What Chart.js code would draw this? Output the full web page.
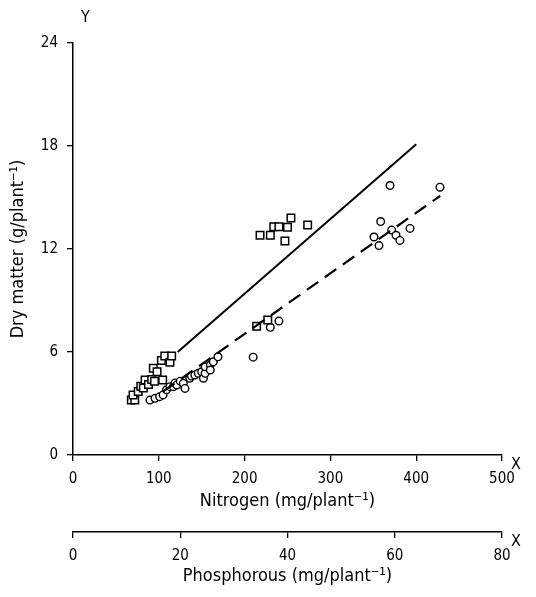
<!DOCTYPE html>
<html>
<head>
<meta charset="utf-8">
<script src="https://cdn.jsdelivr.net/npm/chart.js@4"></script>
<style>
  body { margin: 0; background: #fff; }
  #wrap { width: 536px; height: 597px; }
</style>
</head>
<body>
<div id="wrap"><canvas id="Chart"></canvas></div>
<script>
// values
const nitrogenTicks = [0, 100, 200, 300, 400, 500];
const phosphorusTicks = [0, 20, 40, 60, 80];
const dryMatterTicks = [0, 6, 12, 18, 24];

const squaresN = [68, 72, 70, 76, 79, 82, 84, 88, 91.7, 93.6, 95, 98, 104.5, 103, 107, 113, 115, 214, 227, 218, 230, 234, 240, 250, 254, 247, 273.5];
const squaresY = [3.2, 3.2, 3.5, 3.7, 4.0, 3.9, 4.37, 4.1, 4.4, 5.05, 4.3, 4.85, 4.37, 5.5, 5.77, 5.4, 5.77, 7.5, 7.86, 12.8, 12.8, 13.3, 13.3, 13.26, 13.8, 12.46, 13.4];

const circlesN = [89.7, 95.6, 101, 105, 109, 113, 117, 119, 121, 125, 128.6, 130.5, 136, 138, 142, 146, 150, 152, 154, 154, 160, 160, 163.5, 169, 210, 230, 240, 350.8, 356.6, 358.6, 369.5, 371.4, 376.5, 381, 392.8, 427.7];
const circlesY = [3.2, 3.3, 3.4, 3.5, 3.8, 3.98, 3.98, 4.2, 4.08, 4.3, 4.17, 3.88, 4.47, 4.6, 4.66, 4.76, 4.85, 4.47, 4.76, 5.14, 5.24, 4.95, 5.43, 5.72, 5.7, 7.44, 7.8, 12.7, 12.2, 13.6, 15.7, 13.1, 12.8, 12.5, 13.2, 15.6];

const filledN = [98];
const filledY = [4.85];

// fitted lines, end points
const solidN = [122, 400];
const solidY = [6.0, 18.1];
const dashedN = [105, 428];
const dashedY = [3.7, 15.1];

const fontFam = "'DejaVu Sans Condensed', 'Liberation Sans Narrow', sans-serif";

const toPoints = (xs, ys) => xs.map((x, i) => ({ x: x, y: ys[i] }));

const axisLabels = {
  id: 'axisLabels',
  afterDraw(chart) {
    const { ctx, chartArea, scales } = chart;
    ctx.save();
    ctx.fillStyle = '#000';
    ctx.font = '16px ' + fontFam;
    ctx.textAlign = 'left';
    ctx.textBaseline = 'middle';
    ctx.fillText('Y', chartArea.left + 8, chartArea.top - 25);
    ctx.fillText('X', chartArea.right + 9, chartArea.bottom + 10);
    ctx.fillText('X', chartArea.right + 9, scales.x2.top + 10);
    ctx.restore();
  }
};

const tickFont = { family: fontFam, size: 15 };
const titleFont = { family: fontFam, size: 18 };

new Chart(document.getElementById('Chart'), {
  type: 'scatter',
  data: {
    datasets: [
      {
        label: 'solid',
        type: 'line',
        data: toPoints(solidN, solidY),
        borderColor: '#000',
        borderWidth: 2,
        pointRadius: 0,
        fill: false
      },
      {
        label: 'dashed',
        type: 'line',
        data: toPoints(dashedN, dashedY),
        borderColor: '#000',
        borderWidth: 2.2,
        borderDash: [14, 8],
        pointRadius: 0,
        fill: false
      },
      {
        label: 'squares',
        data: toPoints(squaresN, squaresY),
        pointStyle: 'rect',
        pointRadius: 5.3,
        borderColor: '#000',
        borderWidth: 1.5,
        backgroundColor: '#fff'
      },
      {
        label: 'circles',
        data: toPoints(circlesN, circlesY),
        pointStyle: 'circle',
        pointRadius: 3.8,
        borderColor: '#000',
        borderWidth: 1.4,
        backgroundColor: '#fff'
      },
      {
        label: 'filled',
        data: toPoints(filledN, filledY),
        pointStyle: 'circle',
        pointRadius: 3,
        borderColor: '#000',
        backgroundColor: '#000'
      }
    ]
  },
  options: {
    responsive: true,
    maintainAspectRatio: false,
    animation: false,
    layout: { padding: { left: 0, top: 43, right: 34, bottom: 0 } },
    plugins: { legend: { display: false }, tooltip: { enabled: false } },
    scales: {
      x: {
        type: 'linear',
        position: 'bottom',
        weight: 0,
        min: 0,
        max: 500,
        afterBuildTicks: (s) => { s.ticks = nitrogenTicks.map(v => ({ value: v })); },
        afterFit: (s) => { s.height = 77; },
        grid: { drawOnChartArea: false, tickLength: 6, color: '#000', lineWidth: 1.3 },
        border: { color: '#000', width: 1.5 },
        ticks: { color: '#000', font: tickFont, padding: 9, maxRotation: 0 },
        title: { display: true, text: 'Nitrogen (mg/plant⁻¹)', color: '#000', font: titleFont, padding: { top: 2, bottom: 20 } }
      },
      x2: {
        type: 'linear',
        position: 'bottom',
        display: true,
        weight: 1,
        min: 0,
        max: 80,
        afterBuildTicks: (s) => { s.ticks = phosphorusTicks.map(v => ({ value: v })); },
        afterFit: (s) => { s.height = 65; },
        grid: { drawOnChartArea: false, tickLength: 6, color: '#000', lineWidth: 1.3 },
        border: { color: '#000', width: 1.5 },
        ticks: { color: '#000', font: tickFont, padding: 9, maxRotation: 0 },
        title: { display: true, text: 'Phosphorous (mg/plant⁻¹)', color: '#000', font: titleFont, padding: { top: 2, bottom: 10 } }
      },
      y: {
        type: 'linear',
        min: 0,
        max: 24,
        afterBuildTicks: (s) => { s.ticks = dryMatterTicks.map(v => ({ value: v })); },
        afterFit: (s) => { s.width = 73; },
        grid: { drawOnChartArea: false, tickLength: 6, color: '#000', lineWidth: 1.3 },
        border: { color: '#000', width: 1.5 },
        ticks: { color: '#000', font: tickFont, padding: 9 },
        title: { display: true, text: 'Dry matter (g/plant⁻¹)', color: '#000', font: titleFont, padding: { top: 8, bottom: 6 } }
      }
    }
  },
  plugins: [axisLabels]
});
</script>
</body>
</html>
